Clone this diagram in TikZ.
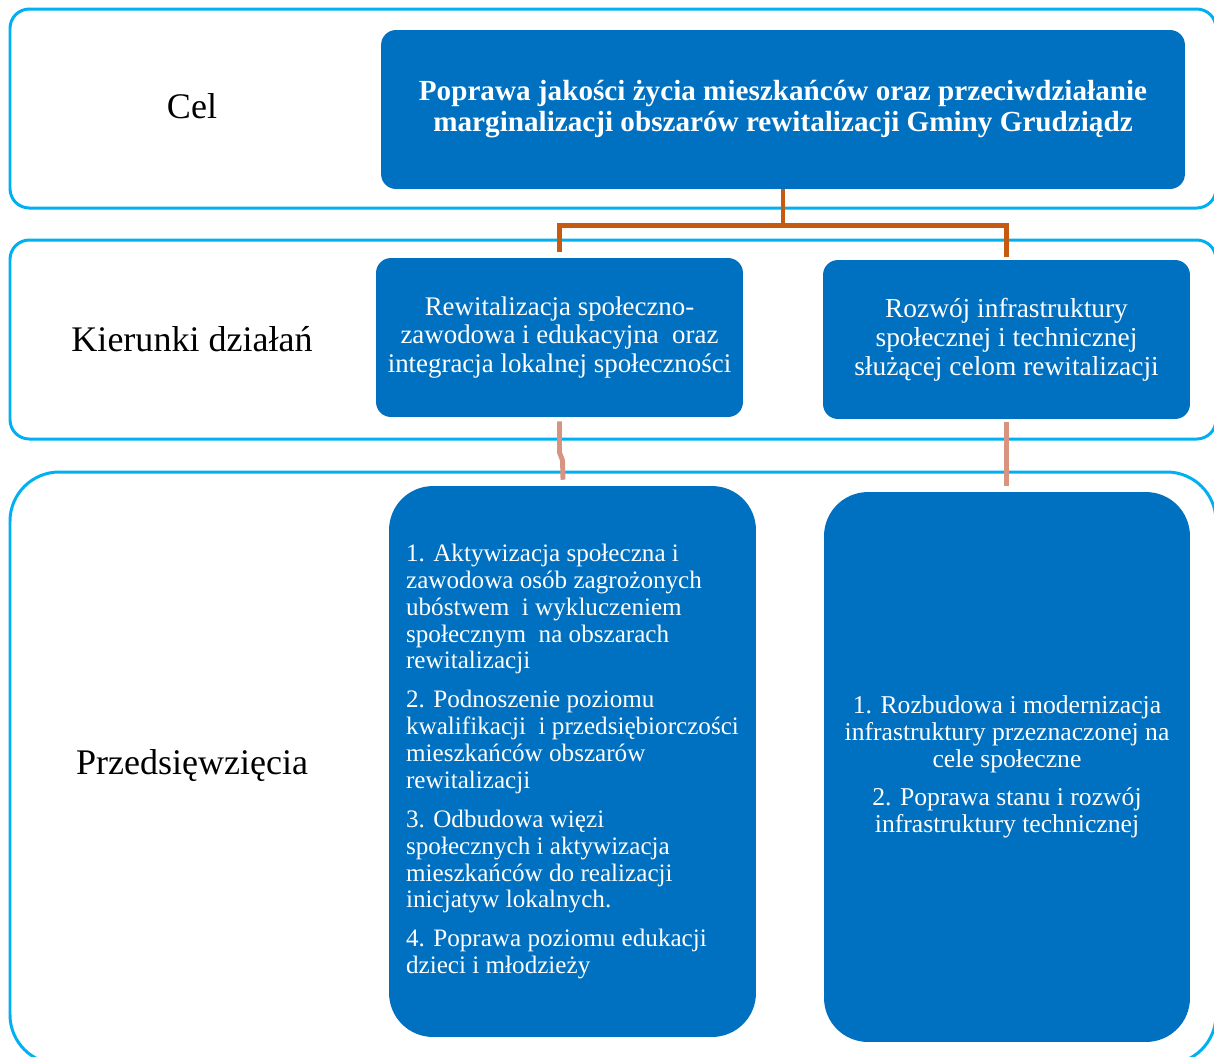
\documentclass[tikz,border=0pt]{standalone}
\usepackage{fontspec}
\setmainfont{Liberation Serif}
\definecolor{boxblue}{HTML}{0070C0}
\definecolor{framecyan}{HTML}{00B0F0}
\definecolor{linkorange}{HTML}{C55A11}
\definecolor{linkpink}{HTML}{D99381}
\begin{document}
\begin{tikzpicture}[x=0.02cm,y=-0.02cm,
  frame/.style={draw=framecyan,line width=1.7pt},
  bluebox/.style={fill=boxblue,draw=none,text=white,inner sep=0pt,
    minimum width=7.34cm,minimum height=3.18cm,rounded corners=8.5pt,align=center,
    font=\fontsize{15.3}{16.4}\selectfont},
  tallbox/.style={bluebox,minimum height=11.02cm,rounded corners=25pt,
    font=\fontsize{14.3}{15.3}\selectfont},
  rowlabel/.style={font=\fontsize{20.5}{24}\selectfont,inner sep=0pt},
  orangelink/.style={draw=linkorange,line width=2.8pt},
  pinklink/.style={draw=linkpink,line width=2.8pt}]
\useasboundingbox (0,0) rectangle (1214,1056);
\clip (0,0) rectangle (1214,1056);
% frames
\draw[frame,rounded corners=11pt] (10,9) rectangle (1216,208);
\draw[frame,rounded corners=11pt] (10,240) rectangle (1216,439);
\draw[frame,rounded corners=28pt] (10,472) rectangle (1216,1064);
% row labels
\node[rowlabel] (lcel) at (192,106) {Cel};
\node[rowlabel] (lkier) at (192,339) {Kierunki działań};
\node[rowlabel] (lprz) at (192,766) {Przedsięwzięcia};
% goal
\node[bluebox,minimum width=16.08cm,font=\bfseries\fontsize{16.6}{17.6}\selectfont] (cel) at (783,109.5)
  {Poprawa jakości życia mieszkańców oraz przeciwdziałanie\\marginalizacji obszarów rewitalizacji Gminy Grudziądz};
% directions
\node[bluebox] (k1) at (559.5,337.5)
  {Rewitalizacja społeczno-\\zawodowa i edukacyjna\ \ oraz\\integracja lokalnej społeczności};
\node[bluebox,font=\fontsize{15.6}{16.4}\selectfont] (k2) at (1006.5,339.5)
  {Rozwój infrastruktury\\społecznej i technicznej\\służącej celom rewitalizacji};
% undertakings
\node[tallbox,align=left] (p1) at (572.5,761.5)
  {1. Aktywizacja społeczna i\\zawodowa osób zagrożonych\\ubóstwem\ \ i wykluczeniem\\społecznym\ \ na obszarach\\rewitalizacji\\[6.8pt]
   2. Podnoszenie poziomu\\kwalifikacji\ \ i przedsiębiorczości\\mieszkańców obszarów\\rewitalizacji\\[6.8pt]
   3. Odbudowa więzi\\społecznych i aktywizacja\\mieszkańców do realizacji\\inicjatyw lokalnych.\\[6.8pt]
   4. Poprawa poziomu edukacji\\dzieci i młodzieży};
\node[tallbox,minimum width=7.32cm,minimum height=11cm,font=\fontsize{14.6}{15.3}\selectfont] (p2) at (1007,767)
  {1. Rozbudowa i modernizacja\\infrastruktury przeznaczonej na\\cele społeczne\\[6.3pt]
   2. Poprawa stanu i rozwój\\infrastruktury technicznej};
% connectors
\draw[orangelink] (cel.south) -- ++(0,36) coordinate (jn) -| ([yshift=3.4pt]k1.north);
\draw[orangelink] (jn) -| ([yshift=1.7pt]k2.north);
\draw[pinklink] ([yshift=-2.3pt]k1.south) -- ++(0,31) -- ++(3,8) -- ([xshift=2pt,yshift=3.4pt]k1.south |- p1.north);
\draw[pinklink] ([yshift=-1.7pt]k2.south) -- ([yshift=3.4pt]k2.south |- p2.north);
\end{tikzpicture}
\end{document}
